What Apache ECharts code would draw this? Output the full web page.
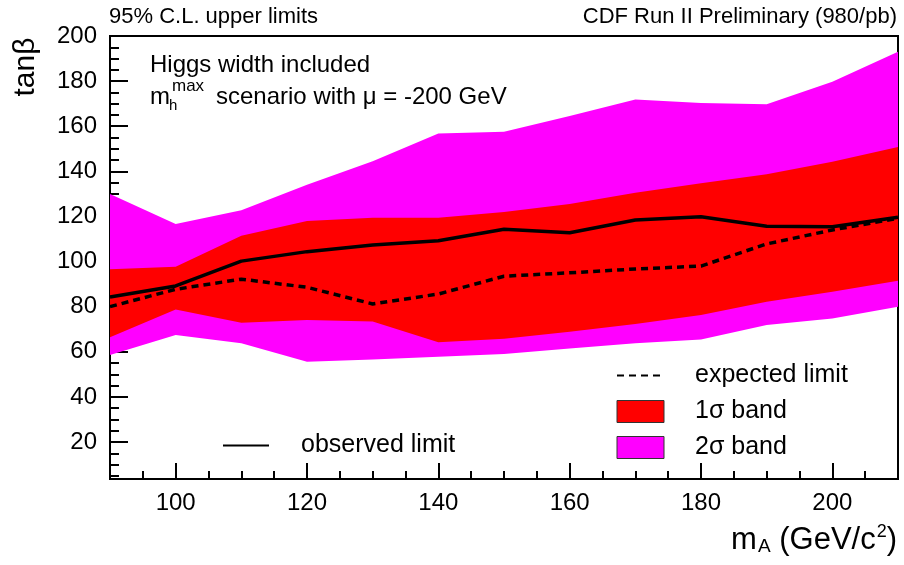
<!DOCTYPE html>
<html>
<head>
<meta charset="utf-8">
<script src="https://cdn.jsdelivr.net/npm/echarts@6/dist/echarts.min.js"></script>
<style>
  html, body { margin: 0; padding: 0; background: #fff; }
  #chart { width: 904px; height: 565px; }
</style>
</head>
<body>
<div id="chart"></div>
<script>
var FONT = 'Liberation Sans, Arial, sans-serif';

// m_A points (GeV/c^2)
var mA = [90, 100, 110, 120, 130, 140, 150, 160, 170, 180, 190, 200, 210];
// tan(beta) limits
var observed = [84.3, 89.2, 100.2, 104.4, 107.3, 109.2, 114.3, 112.8, 118.4, 119.9, 115.7, 115.4, 119.6];
var expected = [80.0, 87.7, 92.2, 88.6, 81.2, 85.6, 93.5, 95.0, 96.7, 98.0, 107.8, 114.0, 119.2];
var sigma1Lo = [66.4, 78.8, 72.9, 74.1, 73.4, 64.2, 65.8, 68.9, 72.3, 76.3, 82.2, 86.6, 91.5];
var sigma1Hi = [96.6, 97.7, 111.4, 118.0, 119.4, 119.4, 122.0, 125.5, 130.5, 134.7, 138.7, 144.3, 150.8];
var sigma2Lo = [58.6, 67.4, 63.8, 55.6, 56.6, 57.8, 59.0, 61.5, 63.8, 65.5, 71.9, 74.8, 80.0];
var sigma2Hi = [130.0, 116.6, 122.8, 134.0, 144.5, 156.8, 157.5, 164.5, 171.9, 170.3, 169.7, 179.7, 193.0];

var yMajor = [20, 40, 60, 80, 100, 120, 140, 160, 180, 200];
var yMinor = [5, 10, 15, 25, 30, 35, 45, 50, 55, 65, 70, 75, 85, 90, 95, 105, 110, 115,
    125, 130, 135, 145, 150, 155, 165, 170, 175, 185, 190, 195];
var xMajor = [100, 120, 140, 160, 180, 200];
var xMinor = [95, 105, 110, 115, 125, 130, 135, 145, 150, 155, 165, 170, 175, 185, 190, 195, 205];

function pairs(ys) {
    return mA.map(function (x, i) { return [x, ys[i]]; });
}
function bandData(lo, hi) {
    return mA.map(function (x, i) { return [x, lo[i], hi[i]]; });
}
// draws the whole band as one polygon, through the axis scales
function bandRenderer(lo, hi, color) {
    return function (params, api) {
        if (params.dataIndex !== 0) return null;
        var pts = [];
        for (var i = 0; i < mA.length; i++) pts.push(api.coord([mA[i], hi[i]]));
        for (var j = mA.length - 1; j >= 0; j--) pts.push(api.coord([mA[j], lo[j]]));
        return { type: 'polygon', shape: { points: pts }, style: { fill: color } };
    };
}

var myChart = echarts.init(document.getElementById('chart'));

var xBase = { type: 'value', min: 90, max: 210, gridIndex: 0, splitLine: { show: false } };
var yBase = { type: 'value', min: 3.6, max: 200, gridIndex: 0, splitLine: { show: false } };

var option = {
    animation: false,
    backgroundColor: '#fff',
    textStyle: { fontFamily: FONT },
    grid: {
        left: 110, right: 6, top: 36, bottom: 86,
        show: true, borderColor: '#000', borderWidth: 2, backgroundColor: '#fff'
    },
    xAxis: [
        Object.assign({}, xBase, {
            position: 'bottom',
            axisLine: { show: true, lineStyle: { color: '#000', width: 2 } },
            axisTick: { inside: true, length: 16, customValues: xMajor, lineStyle: { color: '#000', width: 2 } },
            axisLabel: { customValues: xMajor, margin: 12, fontSize: 24, color: '#000', fontFamily: FONT }
        }),
        Object.assign({}, xBase, {
            position: 'bottom',
            axisLine: { show: false },
            axisTick: { inside: true, length: 8, customValues: xMinor, lineStyle: { color: '#000', width: 2 } },
            axisLabel: { show: false }
        })
    ],
    yAxis: [
        Object.assign({}, yBase, {
            position: 'left',
            axisLine: { show: true, lineStyle: { color: '#000', width: 2 } },
            axisTick: { inside: true, length: 18, customValues: yMajor, lineStyle: { color: '#000', width: 2 } },
            axisLabel: { customValues: yMajor, margin: 13, fontSize: 24, color: '#000', fontFamily: FONT }
        }),
        Object.assign({}, yBase, {
            position: 'left',
            axisLine: { show: false },
            axisTick: { inside: true, length: 9, customValues: yMinor, lineStyle: { color: '#000', width: 2 } },
            axisLabel: { show: false }
        })
    ],
    legend: [{
        orient: 'vertical',
        left: 616, top: 363, padding: 0,
        itemWidth: 47, itemHeight: 22, itemGap: 11,
        selectedMode: false,
        formatter: '{t|{name}}',
        textStyle: { fontSize: 25, color: '#000', fontFamily: FONT,
            rich: { t: { fontSize: 25, color: '#000', fontFamily: FONT, padding: [0, 0, 0, 26] } } },
        data: [
            { name: 'expected limit', itemStyle: { opacity: 0 }, lineStyle: { color: '#000', width: 2, type: [7, 5] } },
            { name: '1σ band', icon: 'rect', itemStyle: { color: '#ff0000', borderColor: '#333', borderWidth: 1 } },
            { name: '2σ band', icon: 'rect', itemStyle: { color: '#ff00ff', borderColor: '#333', borderWidth: 1 } }
        ]
    }, {
        orient: 'vertical',
        left: 222, top: 433, padding: 0,
        itemWidth: 46, itemHeight: 22,
        selectedMode: false,
        formatter: '{t|{name}}',
        textStyle: { fontSize: 25, color: '#000', fontFamily: FONT,
            rich: { t: { fontSize: 25, color: '#000', fontFamily: FONT, padding: [0, 0, 0, 27] } } },
        data: [
            { name: 'observed limit', itemStyle: { opacity: 0 }, lineStyle: { color: '#000', width: 2 } }
        ]
    }],
    series: [{
        name: '2σ band',
        type: 'custom', silent: true,
        data: bandData(sigma2Lo, sigma2Hi),
        encode: { x: 0, y: [1, 2] },
        itemStyle: { color: '#ff00ff' },
        renderItem: bandRenderer(sigma2Lo, sigma2Hi, '#ff00ff')
    }, {
        name: '1σ band',
        type: 'custom', silent: true,
        data: bandData(sigma1Lo, sigma1Hi),
        encode: { x: 0, y: [1, 2] },
        itemStyle: { color: '#ff0000' },
        renderItem: bandRenderer(sigma1Lo, sigma1Hi, '#ff0000')
    }, {
        name: 'expected limit',
        type: 'line', symbol: 'none',
        data: pairs(expected),
        itemStyle: { color: '#000' },
        lineStyle: { color: '#000', width: 3.5, type: [7, 5] }
    }, {
        name: 'observed limit',
        type: 'line', symbol: 'none',
        data: pairs(observed),
        itemStyle: { color: '#000' },
        lineStyle: { color: '#000', width: 3.5 }
    }],
    graphic: [
        { type: 'text', left: 109, top: 6, style: { text: '95% C.L. upper limits', font: '22px ' + FONT, fill: '#000' } },
        { type: 'text', right: 7, top: 6, style: { text: 'CDF Run II Preliminary (980/pb)', font: '22px ' + FONT, fill: '#000' } },
        { type: 'text', x: 26, y: 67, rotation: Math.PI / 2,
          style: { text: 'tanβ', font: '30px ' + FONT, fill: '#000', align: 'center', verticalAlign: 'middle' } },
        { type: 'text', x: 150, y: 65, style: { text: 'Higgs width included', font: '24px ' + FONT, fill: '#000', verticalAlign: 'middle' } },
        { type: 'text', x: 150, y: 97, style: { text: 'm', font: '24px ' + FONT, fill: '#000', verticalAlign: 'middle' } },
        { type: 'text', x: 169, y: 106, style: { text: 'h', font: '15px ' + FONT, fill: '#000', verticalAlign: 'middle' } },
        { type: 'text', x: 172, y: 86, style: { text: 'max', font: '17px ' + FONT, fill: '#000', verticalAlign: 'middle' } },
        { type: 'text', x: 216, y: 97, style: { text: 'scenario with μ = -200 GeV', font: '24px ' + FONT, fill: '#000', verticalAlign: 'middle' } },
        { type: 'text', x: 897, y: 540,
          style: {
              text: '{n|m}{s|A}{n| (GeV/c}{p|2}{n|)}', align: 'right', verticalAlign: 'middle',
              rich: {
                  n: { fontSize: 31, fontFamily: FONT, color: '#000', lineHeight: 34 },
                  s: { fontSize: 19, fontFamily: FONT, color: '#000', padding: [14, 0, 0, 1] },
                  p: { fontSize: 18, fontFamily: FONT, color: '#000', padding: [0, 0, 16, 1] }
              }
          } }
    ]
};
myChart.setOption(option);
</script>
</body>
</html>
